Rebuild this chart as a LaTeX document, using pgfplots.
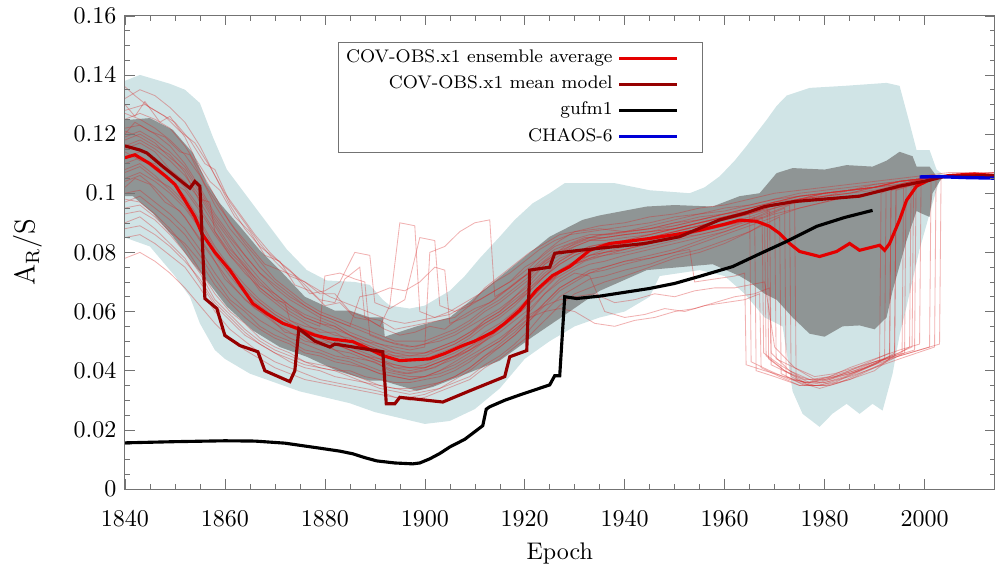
\documentclass[border=0pt]{standalone}
\usepackage{pgfplots}
\pgfplotsset{compat=1.18}
\definecolor{bandblue}{RGB}{208,228,230}
\definecolor{bandgrey}{RGB}{143,149,149}
\definecolor{avgred}{RGB}{228,0,0}
\definecolor{meanred}{RGB}{150,0,0}
\definecolor{thinred}{RGB}{215,40,40}
\definecolor{chaosblue}{RGB}{0,0,215}
\definecolor{framegray}{RGB}{115,115,115}
\begin{document}
\begin{tikzpicture}
\begin{axis}[
  scale only axis, width=362pt, height=197pt,
  xmin=1840, xmax=2014, ymin=0, ymax=0.16,
  axis on top,
  xtick={1840,1860,1880,1900,1920,1940,1960,1980,2000},
  ytick={0,0.02,0.04,0.06,0.08,0.1,0.12,0.14,0.16},
  minor x tick num=3, minor y tick num=3,
  major tick length=4pt, minor tick length=2pt,
  scaled x ticks=false, scaled y ticks=false,
  xticklabel style={yshift=-5.5pt, /pgf/number format/.cd,1000 sep={}},
  yticklabel style={/pgf/number format/.cd,fixed,precision=2},
  axis line style={framegray}, tick style={framegray},
  xlabel={Epoch}, ylabel={$\mathrm{A_R/S}$},
  every axis x label/.style={at={(axis description cs:0.5,-0.149)}, anchor=base},
  every axis y label/.style={at={(axis description cs:-0.112,0.5)}, rotate=90, anchor=center, font=\large},
  legend plot pos=right,
  legend cell align=right,
  legend style={at={(0.245,0.945)}, anchor=north west, draw=framegray, font=\fontsize{7.6}{9}\selectfont, row sep=0pt, inner sep=1.2pt},
  legend image code/.code={\draw[#1] (0.15cm,0cm) -- (1.0cm,0cm); \path (1.3cm,0cm);},
  member/.style={line width=0.35pt, color=thinred, opacity=0.36, forget plot},
]
% light blue envelope
\addplot[fill=bandblue, draw=none, forget plot] coordinates {
(1840,.138)(1843,.140)(1849,.137)(1852,.135)(1855,.1305)(1857.6,.119)(1860.4,.108)(1864.4,.099)(1868.4,.090)(1872.4,.081)(1876.4,.074)(1880.4,.0705)(1886,.070)(1889,.069)(1891.6,.064)(1893,.062)(1897,.061)(1900,.062)(1905,.067)(1908,.072)(1911,.078)(1915,.0853)(1918,.091)(1921.6,.0966)(1925,.100)(1928,.1034)(1932,.1034)(1938,.1034)(1945,.101)(1953,.100)(1956,.102)(1959,.1057)(1962,.111)(1964.4,.116)(1968.4,.1248)(1970.4,.1295)(1972.4,.133)(1977,.1356)(1984,.1363)(1992.4,.1373)(1995,.1363)(1997,.1237)(1998.4,.1146)(2001,.1146)(2002.4,.108)(2004,.106)
(2003,.1044)(2001.6,.0966)(1999,.081)(1996.4,.0617)(1995,.052)(1993.6,.039)(1991.6,.0265)(1989.6,.0288)(1987,.0254)(1984.4,.0288)(1981.6,.0255)(1979,.021)(1975.6,.0254)(1973.6,.033)(1971.6,.055)(1968,.058)(1964,.066)(1960,.072)(1955,.074)(1947,.072)(1945,.065)(1940,.060)(1935,.058)(1930,.055)(1925,.050)(1920,.044)(1915,.034)(1910,.027)(1905,.023)(1900,.022)(1895,.024)(1890,.026)(1885,.029)(1880,.031)(1875,.033)(1870,.036)(1865,.039)(1860,.044)(1858,.047)(1855,.056)(1853,.065)(1850,.072)(1845,.082)(1840,.085)
};
% dark grey band
\addplot[fill=bandgrey, draw=none, forget plot] coordinates {
(1840,.1247)(1845,.1254)(1849.6,.1214)(1853.6,.1136)(1856.4,.1034)(1859,.0966)(1863,.0888)(1867,.0807)(1871,.074)(1876,.065)(1882,.0603)(1885,.0603)(1889,.058)(1891.6,.058)(1892,.0515)(1898.4,.055)(1905,.058)(1911.6,.067)(1918.4,.0763)(1925,.0853)(1931.6,.091)(1935,.0925)(1944.4,.0955)(1950,.096)(1957.6,.0955)(1963,.099)(1967,.100)(1970.4,.1068)(1973.6,.1085)(1980,.108)(1984.4,.1095)(1989.6,.109)(1992.4,.111)(1995,.114)(1997.6,.1125)(1998.4,.109)(2001,.109)(2002.4,.1057)(2004,.106)
(2003,.104)(2001.6,.100)(2001,.092)(1999.6,.093)(1998.4,.094)(1996.4,.084)(1993.6,.067)(1992.4,.058)(1990,.054)(1987,.0553)(1983.6,.055)(1980,.0515)(1977,.0525)(1973.6,.058)(1970.4,.064)(1968,.066)(1965,.070)(1963,.072)(1957.6,.076)(1951,.075)(1944.4,.074)(1935,.067)(1928.4,.0593)(1921.6,.0515)(1915,.0434)(1908.4,.039)(1901.6,.0345)(1898.4,.0332)(1891.6,.0366)(1889,.0366)(1882.4,.040)(1876.4,.0447)(1871,.048)(1865.6,.0536)(1860.4,.0617)(1856.4,.0705)(1853.6,.0763)(1849.6,.0853)(1845.6,.0932)(1841.6,.099)(1840,.099)
};
% ensemble members
\addplot[member] coordinates {(1840,.128)(1844,.130)(1847,.127)(1850,.124)(1853,.118)(1856,.110)(1858,.108)(1861,.097)(1864,.090)(1867,.083)(1870,.077)(1873,.072)(1876,.070)(1879,.066)(1882,.066)(1885,.060)(1888,.058)(1891,.057)(1894,.054)(1897,.055)(1900,.056)(1903,.057)(1906,.058)(1909,.062)(1912,.065)(1915,.068)(1918,.071)(1921,.075)(1924,.080)(1927,.084)(1930,.087)(1935,.089)(1940,.090)(1945,.092)(1950,.093)(1955,.095)(1960,.096)(1965,.098)(1970,.100)(1975,.101)(1980,.102)(1985,.103)(1990,.104)(1995,.105)(2000,.106)(2005,.107)(2014,.107)};
\addplot[member] coordinates {(1840,.098)(1843,.097)(1846,.093)(1849,.088)(1852,.082)(1855,.074)(1858,.066)(1861,.060)(1864,.056)(1867,.051)(1870,.048)(1873,.046)(1876,.043)(1879,.041)(1882,.040)(1885,.038)(1888,.036)(1891,.034)(1894,.033)(1897,.032)(1900,.033)(1903,.034)(1906,.036)(1909,.038)(1912,.042)(1915,.045)(1918,.049)(1921,.054)(1924,.060)(1927,.065)(1930,.068)(1933,.071)(1936,.072)(1940,.074)(1945,.076)(1950,.079)(1955,.081)(1960,.084)(1965,.087)(1968,.090)(1968.3,.045)(1972,.040)(1976,.037)(1980,.037)(1985,.039)(1990,.042)(1994,.046)(1994.3,.101)(2000,.104)(2005,.106)(2014,.106)};
\addplot[member] coordinates {(1840,.120)(1842,.124)(1845,.121)(1848,.119)(1851,.114)(1853,.113)(1856,.103)(1859,.095)(1862,.088)(1865,.082)(1868,.076)(1871,.074)(1874,.072)(1877,.066)(1880,.067)(1883,.070)(1886,.080)(1889,.079)(1890,.063)(1893,.061)(1896,.064)(1899,.085)(1902,.084)(1903,.062)(1906,.060)(1909,.062)(1912,.068)(1915,.072)(1918,.076)(1921,.080)(1924,.083)(1927,.086)(1930,.087)(1935,.088)(1940,.087)(1945,.089)(1950,.091)(1955,.093)(1960,.094)(1965,.096)(1970,.098)(1975,.099)(1980,.100)(1985,.101)(1990,.102)(1995,.104)(2000,.105)(2005,.106)(2014,.106)};
\addplot[member] coordinates {(1840,.108)(1843,.110)(1846,.106)(1849,.101)(1852,.096)(1855,.088)(1858,.079)(1861,.072)(1864,.066)(1867,.062)(1870,.058)(1873,.055)(1876,.052)(1879,.050)(1882,.049)(1885,.047)(1888,.045)(1891,.044)(1894,.041)(1897,.040)(1900,.041)(1903,.043)(1906,.045)(1909,.048)(1912,.051)(1915,.055)(1918,.060)(1921,.064)(1924,.070)(1927,.074)(1930,.077)(1933,.079)(1936,.080)(1940,.081)(1945,.083)(1950,.085)(1955,.086)(1960,.088)(1966,.092)(1966.3,.040)(1970,.038)(1975,.035)(1980,.036)(1985,.038)(1990,.041)(1996,.046)(1996.3,.103)(2000,.105)(2005,.106)(2014,.106)};
\addplot[member] coordinates {(1840,.132)(1843,.135)(1846,.133)(1849,.129)(1852,.124)(1855,.116)(1858,.106)(1861,.096)(1864,.088)(1867,.082)(1870,.078)(1873,.074)(1876,.069)(1879,.064)(1882,.063)(1884,.071)(1887,.075)(1888,.058)(1891,.055)(1893,.062)(1895,.090)(1898,.089)(1899,.060)(1902,.058)(1905,.059)(1908,.062)(1911,.064)(1914,.067)(1917,.070)(1920,.075)(1923,.078)(1926,.082)(1929,.084)(1933,.086)(1937,.086)(1941,.087)(1945,.088)(1950,.090)(1955,.092)(1960,.093)(1965,.095)(1970,.097)(1975,.099)(1980,.100)(1985,.101)(1990,.102)(1995,.104)(2000,.105)(2005,.106)(2014,.106)};
\addplot[member] coordinates {(1840,.090)(1843,.092)(1846,.088)(1849,.083)(1852,.078)(1855,.070)(1858,.062)(1861,.057)(1864,.052)(1867,.049)(1870,.046)(1873,.044)(1876,.042)(1879,.041)(1882,.040)(1885,.040)(1888,.038)(1891,.037)(1894,.036)(1897,.036)(1900,.037)(1903,.038)(1906,.040)(1909,.043)(1912,.047)(1915,.050)(1918,.055)(1921,.060)(1924,.066)(1927,.071)(1930,.074)(1933,.076)(1936,.077)(1940,.079)(1945,.081)(1950,.083)(1955,.085)(1960,.087)(1965,.090)(1972,.095)(1972.3,.038)(1976,.035)(1980,.035)(1985,.037)(1990,.040)(1993,.044)(1993.3,.101)(2000,.104)(2005,.106)(2014,.106)};
\addplot[member] coordinates {(1840,.115)(1843,.117)(1846,.114)(1849,.108)(1852,.104)(1855,.098)(1857,.097)(1858,.087)(1861,.080)(1864,.075)(1867,.068)(1870,.064)(1872,.063)(1873,.057)(1876,.055)(1879,.054)(1882,.052)(1885,.051)(1888,.048)(1891,.046)(1894,.045)(1897,.044)(1900,.044)(1903,.046)(1906,.048)(1909,.051)(1912,.055)(1915,.058)(1918,.062)(1921,.067)(1924,.072)(1927,.076)(1930,.079)(1933,.081)(1936,.082)(1940,.083)(1945,.085)(1950,.087)(1955,.089)(1960,.091)(1965,.093)(1970,.096)(1975,.098)(1980,.100)(1985,.101)(1990,.102)(1995,.104)(2000,.105)(2005,.106)(2014,.106)};
\addplot[member] coordinates {(1840,.104)(1843,.106)(1846,.102)(1849,.097)(1852,.092)(1855,.084)(1858,.077)(1861,.070)(1864,.064)(1867,.060)(1870,.056)(1873,.053)(1876,.050)(1879,.049)(1882,.047)(1885,.046)(1888,.044)(1891,.042)(1894,.040)(1897,.039)(1900,.040)(1903,.042)(1906,.044)(1909,.047)(1912,.050)(1915,.054)(1918,.058)(1921,.063)(1924,.068)(1927,.073)(1930,.076)(1933,.078)(1936,.079)(1940,.081)(1945,.083)(1950,.085)(1955,.087)(1960,.089)(1965,.091)(1969,.094)(1969.3,.042)(1973,.039)(1977,.036)(1981,.038)(1985,.041)(1990,.044)(1995,.047)(1999,.049)(1999.3,.104)(2005,.106)(2014,.106)};
\addplot[member] coordinates {(1840,.100)(1843,.101)(1846,.097)(1849,.093)(1852,.088)(1855,.081)(1858,.073)(1861,.066)(1864,.061)(1867,.057)(1870,.054)(1873,.051)(1876,.049)(1879,.047)(1882,.045)(1885,.044)(1888,.042)(1891,.040)(1894,.039)(1897,.038)(1900,.038)(1903,.040)(1906,.042)(1909,.045)(1912,.048)(1915,.051)(1918,.055)(1921,.059)(1924,.062)(1927,.064)(1930,.065)(1934,.066)(1938,.063)(1942,.064)(1946,.066)(1950,.065)(1954,.067)(1958,.068)(1962,.068)(1965,.069)(1968,.070)(1970,.048)(1974,.041)(1978,.038)(1982,.039)(1986,.041)(1990,.043)(1995,.046)(1997,.048)(1997.3,.102)(2000,.104)(2005,.106)(2014,.106)};
\addplot[member] coordinates {(1840,.125)(1843,.127)(1846,.125)(1849,.122)(1852,.116)(1855,.108)(1858,.099)(1861,.090)(1864,.083)(1867,.077)(1870,.071)(1873,.067)(1876,.063)(1879,.060)(1882,.058)(1885,.056)(1888,.054)(1891,.052)(1894,.050)(1897,.050)(1900,.050)(1903,.052)(1906,.054)(1909,.057)(1912,.061)(1915,.064)(1918,.068)(1921,.072)(1924,.077)(1927,.080)(1930,.083)(1933,.085)(1936,.086)(1940,.087)(1945,.088)(1950,.090)(1955,.091)(1960,.093)(1965,.095)(1970,.097)(1975,.099)(1980,.100)(1985,.101)(1990,.102)(1995,.104)(2000,.105)(2005,.106)(2014,.107)};
\addplot[member] coordinates {(1840,.095)(1843,.096)(1846,.092)(1849,.087)(1852,.083)(1855,.077)(1858,.069)(1861,.063)(1864,.058)(1867,.054)(1870,.051)(1873,.049)(1876,.046)(1879,.045)(1882,.043)(1885,.042)(1888,.041)(1891,.039)(1894,.038)(1897,.037)(1900,.038)(1903,.040)(1906,.043)(1909,.046)(1912,.050)(1915,.053)(1918,.057)(1921,.061)(1924,.066)(1927,.070)(1930,.073)(1933,.072)(1936,.060)(1940,.058)(1944,.059)(1948,.061)(1952,.060)(1956,.062)(1960,.063)(1964,.064)(1967,.066)(1967.3,.041)(1971,.038)(1975,.035)(1979,.035)(1983,.037)(1987,.040)(1991,.043)(1991.3,.100)(1995,.103)(2000,.105)(2005,.106)(2014,.106)};
\addplot[member] coordinates {(1840,.136)(1842,.133)(1845,.129)(1848,.126)(1851,.121)(1854,.117)(1857,.109)(1860,.100)(1863,.093)(1866,.086)(1869,.080)(1872,.075)(1875,.071)(1878,.068)(1881,.065)(1884,.063)(1887,.061)(1890,.059)(1893,.057)(1896,.056)(1899,.057)(1902,.058)(1905,.060)(1908,.063)(1911,.066)(1914,.070)(1917,.073)(1920,.077)(1923,.081)(1926,.084)(1929,.086)(1933,.087)(1937,.088)(1941,.089)(1945,.090)(1950,.092)(1955,.093)(1960,.095)(1965,.096)(1970,.098)(1975,.100)(1980,.101)(1985,.102)(1990,.103)(1995,.104)(2000,.105)(2005,.106)(2014,.107)};
\addplot[member] coordinates {(1840,.110)(1843,.112)(1846,.108)(1849,.104)(1852,.099)(1855,.091)(1858,.082)(1861,.075)(1864,.069)(1867,.064)(1870,.060)(1873,.057)(1876,.054)(1879,.052)(1882,.050)(1885,.048)(1888,.046)(1891,.044)(1894,.042)(1897,.041)(1900,.042)(1903,.044)(1906,.046)(1909,.049)(1912,.053)(1915,.056)(1918,.060)(1921,.065)(1924,.070)(1927,.074)(1930,.077)(1933,.079)(1936,.080)(1940,.082)(1945,.084)(1950,.086)(1955,.088)(1960,.090)(1965,.092)(1970,.095)(1974,.097)(1974.3,.037)(1978,.035)(1982,.036)(1986,.039)(1990,.042)(1995,.045)(2001,.048)(2001.3,.105)(2005,.106)(2014,.106)};
\addplot[member] coordinates {(1840,.118)(1843,.120)(1846,.117)(1849,.112)(1852,.108)(1855,.100)(1858,.091)(1861,.084)(1864,.077)(1867,.071)(1870,.066)(1873,.062)(1876,.059)(1879,.057)(1882,.055)(1885,.052)(1888,.050)(1891,.049)(1894,.048)(1897,.047)(1900,.048)(1901,.080)(1904,.082)(1907,.087)(1910,.090)(1913,.091)(1914,.065)(1917,.068)(1920,.072)(1923,.077)(1926,.081)(1929,.083)(1932,.085)(1936,.085)(1940,.086)(1945,.087)(1950,.088)(1955,.090)(1960,.092)(1965,.094)(1970,.096)(1975,.098)(1980,.100)(1985,.101)(1990,.102)(1995,.104)(2000,.105)(2005,.106)(2014,.106)};
\addplot[member] coordinates {(1840,.085)(1843,.086)(1846,.083)(1849,.079)(1852,.075)(1855,.068)(1858,.060)(1861,.054)(1864,.050)(1867,.046)(1870,.043)(1873,.041)(1876,.039)(1879,.037)(1882,.036)(1885,.035)(1888,.034)(1891,.033)(1894,.031)(1897,.030)(1900,.031)(1903,.033)(1906,.035)(1909,.037)(1912,.041)(1915,.044)(1918,.048)(1921,.052)(1924,.057)(1927,.062)(1930,.066)(1933,.068)(1936,.070)(1940,.072)(1945,.075)(1950,.078)(1955,.080)(1960,.083)(1965,.087)(1971,.092)(1971.3,.039)(1975,.036)(1979,.034)(1983,.036)(1987,.039)(1991,.042)(1994,.045)(1994.3,.102)(2000,.104)(2005,.106)(2014,.106)};
\addplot[member] coordinates {(1840,.105)(1843,.107)(1846,.104)(1849,.100)(1852,.095)(1855,.088)(1858,.080)(1861,.073)(1864,.068)(1867,.063)(1870,.059)(1873,.056)(1876,.053)(1879,.051)(1882,.049)(1885,.047)(1888,.045)(1891,.043)(1894,.041)(1897,.041)(1900,.041)(1903,.043)(1906,.045)(1909,.047)(1912,.051)(1915,.055)(1918,.059)(1921,.064)(1924,.069)(1927,.073)(1930,.076)(1933,.079)(1936,.081)(1940,.083)(1945,.085)(1950,.087)(1955,.089)(1960,.091)(1965,.093)(1970,.096)(1975,.098)(1980,.099)(1985,.100)(1990,.101)(1995,.103)(2000,.105)(2005,.106)(2014,.106)};
\addplot[member] coordinates {(1840,.122)(1843,.123)(1846,.120)(1849,.116)(1852,.110)(1855,.102)(1858,.093)(1861,.086)(1864,.079)(1867,.073)(1870,.068)(1873,.064)(1876,.061)(1879,.058)(1882,.056)(1885,.053)(1888,.051)(1891,.049)(1894,.047)(1897,.046)(1900,.046)(1903,.048)(1906,.050)(1909,.053)(1912,.057)(1915,.060)(1918,.064)(1921,.068)(1924,.073)(1927,.077)(1930,.080)(1933,.082)(1936,.083)(1940,.084)(1945,.086)(1950,.088)(1955,.090)(1960,.092)(1965,.094)(1965.3,.043)(1969,.040)(1973,.037)(1977,.036)(1981,.037)(1985,.040)(1990,.043)(1998,.047)(1998.3,.104)(2005,.106)(2014,.106)};
\addplot[member] coordinates {(1840,.112)(1843,.114)(1846,.112)(1849,.107)(1852,.102)(1855,.095)(1858,.087)(1861,.079)(1864,.073)(1867,.068)(1870,.064)(1873,.060)(1876,.057)(1879,.055)(1880,.072)(1883,.073)(1886,.071)(1888,.070)(1889,.052)(1892,.050)(1895,.049)(1898,.048)(1900,.049)(1903,.050)(1906,.052)(1909,.055)(1912,.058)(1915,.061)(1918,.065)(1921,.069)(1924,.074)(1927,.078)(1930,.080)(1933,.082)(1936,.083)(1940,.084)(1945,.085)(1950,.087)(1955,.089)(1960,.091)(1965,.093)(1970,.095)(1975,.097)(1980,.099)(1985,.100)(1990,.102)(1995,.103)(2000,.105)(2005,.106)(2014,.106)};
\addplot[member] coordinates {(1840,.078)(1843,.080)(1846,.077)(1849,.073)(1852,.068)(1855,.062)(1858,.056)(1861,.051)(1864,.047)(1867,.044)(1870,.041)(1873,.039)(1876,.037)(1879,.036)(1882,.035)(1885,.034)(1888,.033)(1891,.032)(1894,.031)(1897,.031)(1900,.032)(1903,.034)(1906,.037)(1909,.040)(1912,.044)(1915,.048)(1918,.052)(1921,.057)(1924,.062)(1927,.067)(1930,.070)(1933,.073)(1936,.075)(1940,.077)(1945,.079)(1950,.081)(1955,.084)(1960,.087)(1965,.090)(1970,.093)(1975,.095)(1980,.097)(1985,.099)(1990,.100)(1995,.102)(2000,.104)(2005,.106)(2014,.106)};
\addplot[member] coordinates {(1840,.116)(1843,.118)(1846,.115)(1849,.111)(1852,.106)(1855,.099)(1858,.090)(1861,.082)(1864,.075)(1867,.070)(1870,.065)(1873,.061)(1876,.058)(1879,.056)(1882,.054)(1885,.052)(1888,.049)(1891,.047)(1894,.045)(1897,.045)(1900,.045)(1903,.047)(1906,.049)(1909,.052)(1912,.056)(1915,.059)(1918,.063)(1921,.068)(1924,.072)(1927,.076)(1930,.079)(1933,.081)(1936,.082)(1940,.084)(1945,.086)(1950,.088)(1955,.090)(1960,.092)(1965,.094)(1970,.097)(1970.3,.044)(1974,.041)(1978,.037)(1982,.038)(1986,.040)(1990,.043)(1995,.045)(2003,.049)(2003.3,.105)(2008,.106)(2014,.106)};
\addplot[member] coordinates {(1840,.130)(1842,.126)(1844,.131)(1847,.124)(1849,.126)(1852,.119)(1854,.112)(1857,.104)(1859,.101)(1862,.092)(1865,.087)(1868,.079)(1871,.077)(1874,.069)(1877,.067)(1880,.062)(1883,.063)(1886,.058)(1889,.057)(1892,.054)(1895,.052)(1898,.053)(1901,.055)(1904,.054)(1907,.058)(1910,.061)(1913,.063)(1916,.067)(1919,.071)(1922,.074)(1925,.078)(1928,.082)(1931,.084)(1935,.086)(1940,.087)(1945,.088)(1950,.089)(1955,.091)(1960,.093)(1965,.094)(1970,.097)(1975,.098)(1980,.100)(1985,.101)(1990,.103)(1995,.104)(2000,.105)(2005,.106)(2014,.106)};
\addplot[member] coordinates {(1840,.102)(1842,.105)(1845,.103)(1848,.097)(1851,.094)(1854,.087)(1857,.080)(1860,.071)(1863,.066)(1866,.061)(1869,.058)(1872,.053)(1875,.052)(1878,.049)(1881,.048)(1884,.045)(1887,.044)(1890,.043)(1893,.040)(1896,.039)(1899,.040)(1902,.041)(1905,.044)(1908,.046)(1911,.049)(1914,.053)(1917,.057)(1920,.061)(1923,.066)(1926,.071)(1929,.074)(1932,.077)(1936,.079)(1940,.080)(1945,.082)(1950,.084)(1955,.086)(1960,.088)(1967.5,.092)(1967.8,.046)(1971,.042)(1975,.038)(1979,.036)(1983,.038)(1987,.040)(1991,.043)(1995.5,.046)(1995.8,.102)(2000,.104)(2005,.106)(2014,.106)};
\addplot[member] coordinates {(1840,.114)(1843,.111)(1846,.110)(1849,.104)(1852,.101)(1855,.094)(1858,.086)(1861,.079)(1864,.074)(1867,.067)(1870,.063)(1873,.059)(1876,.056)(1879,.053)(1882,.053)(1885,.050)(1888,.049)(1891,.047)(1894,.046)(1897,.045)(1900,.046)(1903,.047)(1906,.049)(1909,.052)(1912,.057)(1915,.060)(1918,.065)(1921,.070)(1924,.076)(1927,.080)(1930,.082)(1933,.084)(1936,.084)(1940,.085)(1945,.086)(1950,.088)(1955,.090)(1960,.092)(1965,.094)(1970,.096)(1975,.098)(1980,.099)(1985,.101)(1990,.102)(1995,.104)(2000,.105)(2005,.106)(2014,.106)};
\addplot[member] coordinates {(1840,.093)(1843,.094)(1846,.091)(1849,.086)(1852,.080)(1855,.073)(1858,.064)(1861,.059)(1864,.054)(1867,.050)(1870,.047)(1873,.045)(1876,.043)(1879,.042)(1882,.041)(1885,.039)(1888,.037)(1891,.035)(1894,.034)(1897,.034)(1900,.035)(1903,.036)(1906,.038)(1909,.041)(1912,.045)(1915,.048)(1918,.052)(1921,.057)(1924,.063)(1927,.068)(1930,.071)(1933,.074)(1936,.075)(1940,.077)(1945,.078)(1950,.080)(1953,.081)(1954,.070)(1958,.071)(1962,.072)(1964,.073)(1964.3,.042)(1968,.040)(1972,.038)(1976,.036)(1980,.037)(1984,.039)(1988,.041)(1992,.044)(1992.3,.101)(1996,.103)(2000,.105)(2005,.106)(2014,.106)};
\addplot[member] coordinates {(1840,.127)(1843,.125)(1846,.122)(1849,.118)(1852,.113)(1855,.106)(1858,.096)(1861,.088)(1864,.082)(1867,.075)(1870,.070)(1873,.066)(1876,.062)(1879,.059)(1882,.057)(1885,.055)(1888,.053)(1891,.051)(1894,.049)(1897,.048)(1900,.049)(1903,.051)(1906,.053)(1909,.056)(1912,.060)(1915,.063)(1918,.067)(1921,.071)(1924,.076)(1927,.079)(1930,.082)(1933,.084)(1936,.085)(1940,.086)(1945,.087)(1950,.089)(1955,.091)(1960,.093)(1965,.095)(1970,.097)(1975,.099)(1980,.100)(1985,.101)(1990,.102)(1995,.104)(2000,.105)(2005,.106)(2014,.106)};
\addplot[member] coordinates {(1840,.107)(1843,.109)(1846,.105)(1849,.102)(1852,.097)(1855,.090)(1858,.081)(1861,.074)(1864,.067)(1867,.063)(1870,.059)(1873,.056)(1876,.053)(1879,.051)(1882,.049)(1885,.047)(1888,.045)(1891,.043)(1894,.042)(1897,.041)(1900,.041)(1903,.043)(1906,.045)(1909,.048)(1912,.052)(1915,.055)(1918,.059)(1921,.064)(1924,.069)(1927,.073)(1930,.076)(1933,.078)(1936,.080)(1940,.081)(1945,.083)(1950,.085)(1955,.087)(1960,.089)(1965,.091)(1970,.094)(1973,.096)(1973.3,.038)(1977,.035)(1981,.035)(1985,.037)(1990,.041)(1995,.044)(2002,.048)(2002.3,.106)(2006,.106)(2014,.106)};
\addplot[member] coordinates {(1840,.097)(1843,.099)(1846,.095)(1849,.091)(1852,.086)(1855,.079)(1858,.071)(1861,.064)(1864,.060)(1867,.055)(1870,.052)(1873,.050)(1876,.047)(1879,.046)(1882,.044)(1885,.043)(1888,.041)(1891,.039)(1894,.038)(1897,.037)(1900,.038)(1903,.039)(1906,.041)(1909,.044)(1912,.047)(1915,.050)(1918,.054)(1921,.058)(1924,.060)(1927,.061)(1930,.060)(1934,.056)(1938,.055)(1942,.057)(1946,.058)(1950,.060)(1954,.061)(1958,.063)(1962,.065)(1966,.066)(1969,.068)(1969.3,.046)(1973,.040)(1977,.037)(1981,.038)(1985,.040)(1989,.043)(1993,.046)(1993.3,.101)(2000,.104)(2005,.106)(2014,.106)};
\addplot[member] coordinates {(1840,.119)(1843,.121)(1846,.118)(1849,.114)(1852,.109)(1855,.101)(1858,.092)(1861,.085)(1864,.079)(1867,.073)(1870,.069)(1873,.065)(1876,.062)(1879,.059)(1882,.057)(1885,.055)(1887,.065)(1890,.066)(1893,.068)(1896,.067)(1899,.070)(1902,.075)(1904,.074)(1905,.056)(1908,.058)(1911,.061)(1914,.064)(1917,.068)(1920,.072)(1923,.076)(1926,.080)(1929,.082)(1932,.084)(1936,.085)(1940,.086)(1945,.087)(1950,.088)(1955,.090)(1960,.092)(1965,.094)(1970,.096)(1975,.098)(1980,.099)(1985,.100)(1990,.102)(1995,.103)(2000,.105)(2005,.106)(2014,.106)};
\addplot[member] coordinates {(1840,.088)(1843,.089)(1846,.086)(1849,.082)(1852,.077)(1855,.071)(1858,.063)(1861,.058)(1864,.053)(1867,.049)(1870,.046)(1873,.043)(1876,.041)(1879,.040)(1882,.038)(1885,.037)(1888,.036)(1891,.035)(1894,.034)(1897,.033)(1900,.034)(1903,.036)(1906,.038)(1909,.041)(1912,.045)(1915,.049)(1918,.053)(1921,.058)(1924,.063)(1927,.068)(1930,.071)(1933,.073)(1936,.074)(1940,.076)(1945,.078)(1950,.080)(1955,.083)(1960,.086)(1965,.089)(1970,.092)(1975,.095)(1980,.097)(1985,.099)(1990,.100)(1995,.102)(2000,.104)(2005,.106)(2014,.106)};
\addplot[member] coordinates {(1840,.121)(1843,.119)(1846,.116)(1849,.113)(1852,.107)(1855,.097)(1858,.089)(1861,.081)(1864,.076)(1867,.069)(1870,.066)(1873,.062)(1876,.058)(1879,.056)(1882,.055)(1885,.052)(1888,.050)(1891,.048)(1894,.046)(1897,.046)(1900,.046)(1903,.048)(1906,.050)(1909,.053)(1912,.056)(1915,.059)(1918,.063)(1921,.067)(1924,.072)(1927,.077)(1930,.080)(1933,.081)(1936,.082)(1940,.083)(1945,.085)(1950,.087)(1955,.089)(1960,.091)(1965,.093)(1968.5,.095)(1968.8,.044)(1972,.040)(1976,.036)(1980,.036)(1984,.038)(1988,.041)(1992,.044)(1997.5,.048)(1997.8,.104)(2002,.105)(2006,.106)(2014,.106)};
% main curves
\addplot[avgred, line width=1.3pt] coordinates {
(1840,.112)(1842,.113)(1845,.110)(1848,.106)(1850,.103)(1852,.0976)(1854,.092)(1855.4,.0864)(1858,.080)(1861,.074)(1865.6,.0627)(1868.4,.0593)(1871.6,.056)(1875,.054)(1878,.052)(1881,.0508)(1885.6,.0498)(1888,.048)(1891.6,.0451)(1895,.0434)(1898,.0437)(1901,.044)(1904,.0458)(1907.6,.0485)(1910,.050)(1913.6,.053)(1916,.056)(1919,.0604)(1922.3,.0672)(1925.6,.0722)(1929,.0752)(1933,.0807)(1937,.083)(1941,.0838)(1945,.0847)(1950,.086)(1955,.0875)(1960,.0895)(1963,.0909)(1966.4,.0905)(1969,.0888)(1971,.0864)(1973,.083)(1975,.0803)(1976.4,.0797)(1979,.0786)(1982.4,.0803)(1985,.083)(1987,.0807)(1991,.0824)(1992,.0807)(1993,.083)(1995,.091)(1996.4,.0976)(1998.4,.1024)(2001.6,.105)(2005,.106)(2010,.1065)(2014,.106)};
\addlegendentry{COV-OBS.x1 ensemble average}
\addplot[meanred, line width=1.3pt] coordinates {
(1840,.116)(1843,.1146)(1844.4,.1136)(1847.6,.109)(1853,.1017)(1854,.104)(1855,.1024)(1856,.0644)(1858.4,.061)(1860,.0519)(1863,.0485)(1866.6,.0464)(1868,.040)(1873,.0363)(1874,.040)(1874.8,.0542)(1878,.050)(1881,.048)(1882,.049)(1891.6,.0464)(1892.3,.0288)(1894,.0288)(1895,.031)(1903.6,.0294)(1909,.0332)(1916,.038)(1917,.0447)(1920.4,.0468)(1921,.074)(1925,.075)(1926,.0797)(1931,.0807)(1944,.083)(1951,.0853)(1959,.091)(1964,.0932)(1968,.0955)(1974,.0972)(1987,.099)(1995,.1024)(2001,.1044)(2004,.1057)(2014,.106)};
\addlegendentry{COV-OBS.x1 mean model}
\addplot[black, line width=1.3pt] coordinates {
(1840,.0156)(1850,.016)(1860,.0163)(1866,.0162)(1872,.0155)(1879,.0138)(1883,.0128)(1885.6,.0119)(1888,.0106)(1890.4,.0095)(1894,.0088)(1897.6,.0085)(1899,.0088)(1901,.0102)(1903,.012)(1905,.0142)(1908,.0168)(1911.6,.0214)(1912.3,.0270)(1913,.0278)(1916,.0300)(1919,.0318)(1922,.0335)(1925,.0352)(1926,.0383)(1927,.0383)(1928,.065)(1930.4,.0644)(1935,.0652)(1940,.0665)(1945,.0678)(1950,.0695)(1955,.0719)(1961.6,.0752)(1967,.0795)(1972.4,.0837)(1978.4,.0888)(1984,.0918)(1989.6,.0942)};
\addlegendentry{gufm1}
\addplot[chaosblue, line width=1.4pt] coordinates {(1999,.1055)(2003,.1056)(2008,.1053)(2014,.1051)};
\addlegendentry{CHAOS-6}
\end{axis}
\path ([xshift=-52pt,yshift=-37pt]current axis.south west);
\end{tikzpicture}
\end{document}
